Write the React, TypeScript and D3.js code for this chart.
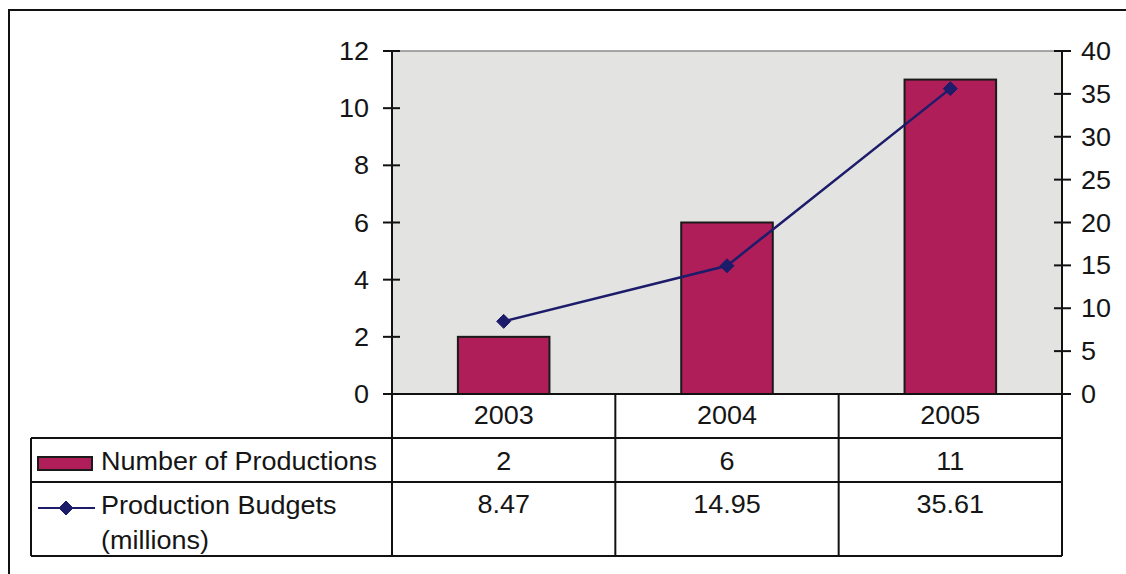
import React from "react";
import * as d3 from "d3";

// Chart data
const years = ["2003", "2004", "2005"];
const productions = [2, 6, 11];
const budgets = [8.47, 14.95, 35.61];
const leftTicks = [0, 2, 4, 6, 8, 10, 12];
const rightTicks = [0, 5, 10, 15, 20, 25, 30, 35, 40];
const seriesNames = ["Number of Productions", "Production Budgets", "(millions)"];

const W = 1126;
const H = 574;
const plotLeft = 392;
const plotRight = 1062;
const plotTop = 51;
const plotBottom = 394;
const rowYear = 438;
const rowCount = 482;
const tableBottom = 556;
const tableLeft = 31;

const barColor = "#b01e5a";
const lineColor = "#1c1c6a";
const FONT = "'Liberation Sans', Arial, Helvetica, sans-serif";

function Label({ x, y, anchor = "start", children }: { x: number; y: number; anchor?: string; children: React.ReactNode }) {
  return (
    <text
      transform={`translate(${x},${y}) scale(1.08,1)`}
      textAnchor={anchor}
      fontFamily={FONT}
      fontSize={25}
      fill="#151515"
    >
      {children}
    </text>
  );
}

function Diamond({ cx, cy, r }: { cx: number; cy: number; r: number }) {
  return (
    <path
      d={`M${cx},${cy - r}L${cx + r},${cy}L${cx},${cy + r}L${cx - r},${cy}Z`}
      fill={lineColor}
      stroke={lineColor}
      strokeWidth={1}
    />
  );
}

export default function App() {
  const x = d3.scaleBand<string>().domain(years).range([plotLeft, plotRight]).paddingInner(0).paddingOuter(0);
  const yL = d3.scaleLinear().domain([0, 12]).range([plotBottom, plotTop]);
  const yR = d3.scaleLinear().domain([0, 40]).range([plotBottom, plotTop]);
  const bw = x.bandwidth() * 0.41;

  const line = d3
    .line<number>()
    .x((_, i) => (x(years[i]) as number) + x.bandwidth() / 2)
    .y((d) => yR(d));

  const cellX = (yr: string) => (x(yr) as number) + x.bandwidth() / 2;

  return (
    <svg width={W} height={H} style={{ position: "absolute", left: 0, top: 0, background: "#fff" }}>
      {/* outer frame */}
      <rect x={9} y={10} width={W + 20} height={H + 20} fill="none" stroke="#111" strokeWidth={2} />

      {/* plot area */}
      <rect x={plotLeft} y={plotTop} width={plotRight - plotLeft} height={plotBottom - plotTop} fill="#e3e3e1" />
      <line x1={plotLeft} x2={plotRight} y1={plotTop} y2={plotTop} stroke="#8c8c8c" strokeWidth={1.5} />

      {/* bars */}
      {years.map((yr, i) => (
        <rect
          key={yr}
          x={cellX(yr) - bw / 2}
          y={yL(productions[i])}
          width={bw}
          height={plotBottom - yL(productions[i])}
          fill={barColor}
          stroke="#1a1a1a"
          strokeWidth={2}
        />
      ))}

      {/* budget line */}
      <path d={line(budgets) || ""} fill="none" stroke={lineColor} strokeWidth={2.5} />
      {budgets.map((b, i) => (
        <Diamond key={i} cx={cellX(years[i])} cy={yR(b)} r={7} />
      ))}

      {/* axes */}
      <line x1={plotLeft} x2={plotLeft} y1={plotTop} y2={tableBottom} stroke="#111" strokeWidth={2} />
      <line x1={plotRight} x2={plotRight} y1={plotTop} y2={tableBottom} stroke="#111" strokeWidth={2} />
      {leftTicks.map((t) => (
        <g key={"l" + t}>
          <line x1={plotLeft - 9} x2={plotLeft + 8} y1={yL(t)} y2={yL(t)} stroke="#111" strokeWidth={2} />
          <Label x={369} y={yL(t) + 9} anchor="end">
            {t}
          </Label>
        </g>
      ))}
      {rightTicks.map((t) => (
        <g key={"r" + t}>
          <line x1={plotRight - 8} x2={plotRight + 9} y1={yR(t)} y2={yR(t)} stroke="#111" strokeWidth={2} />
          <Label x={1081} y={yR(t) + 9}>
            {t}
          </Label>
        </g>
      ))}

      {/* data table */}
      <line x1={plotLeft} x2={plotRight} y1={plotBottom} y2={plotBottom} stroke="#111" strokeWidth={2} />
      {[rowYear, rowCount, tableBottom].map((ry) => (
        <line key={ry} x1={tableLeft} x2={plotRight} y1={ry} y2={ry} stroke="#111" strokeWidth={2} />
      ))}
      <line x1={tableLeft} x2={tableLeft} y1={rowYear} y2={tableBottom} stroke="#111" strokeWidth={2} />
      {years.slice(1).map((yr) => (
        <line key={"v" + yr} x1={x(yr) as number} x2={x(yr) as number} y1={plotBottom} y2={tableBottom} stroke="#111" strokeWidth={2} />
      ))}
      {years.map((yr, i) => (
        <g key={"c" + yr}>
          <Label x={cellX(yr)} y={424} anchor="middle">
            {yr}
          </Label>
          <Label x={cellX(yr)} y={470} anchor="middle">
            {productions[i]}
          </Label>
          <Label x={cellX(yr)} y={513} anchor="middle">
            {budgets[i].toFixed(2)}
          </Label>
        </g>
      ))}

      {/* legend keys */}
      <rect x={38} y={457} width={54} height={13} fill={barColor} stroke="#1a1a1a" strokeWidth={2} />
      <line x1={38} x2={95} y1={508} y2={508} stroke={lineColor} strokeWidth={2} />
      <Diamond cx={66} cy={508} r={7} />
      <Label x={101} y={470}>{seriesNames[0]}</Label>
      <Label x={101} y={514}>{seriesNames[1]}</Label>
      <Label x={101} y={549}>{seriesNames[2]}</Label>
    </svg>
  );
}
